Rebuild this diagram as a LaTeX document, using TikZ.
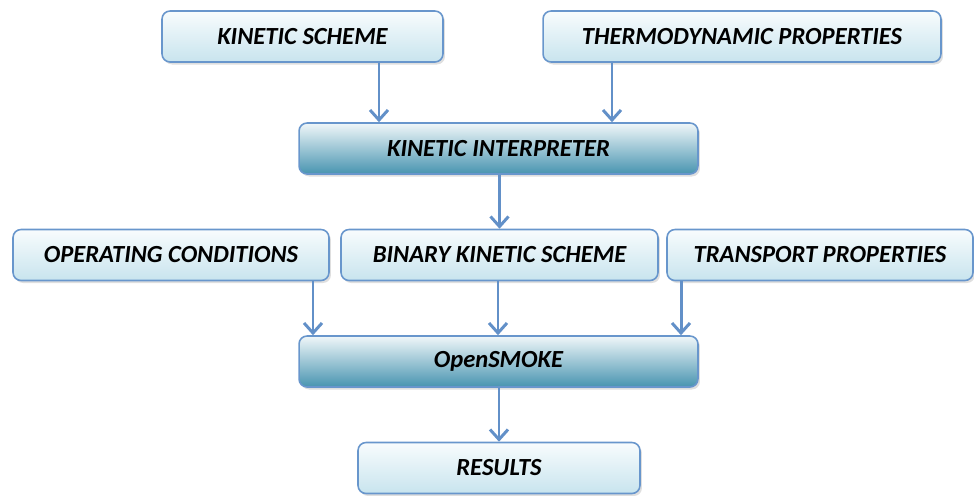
\documentclass[tikz,border=0pt]{standalone}
\usepackage{fontspec}
\setmainfont{Carlito}
\usepackage{tikz}
\usetikzlibrary{arrows.meta, shadows}

\definecolor{boxline}{RGB}{104,150,204}
\definecolor{arrowblue}{RGB}{98,144,200}
\definecolor{lighttop}{RGB}{248,252,253}
\definecolor{lightbot}{RGB}{200,228,238}
\definecolor{darktop}{RGB}{240,247,249}
\definecolor{darkbot}{RGB}{72,148,176}

\begin{document}
\begin{tikzpicture}[x=0.02cm, y=-0.02cm,
		box/.style = {draw = boxline, line width = 0.9pt, rounded corners = 0.16cm,
			minimum height = 1.02cm, inner sep = 0pt,
			font = \fontsize{14}{16}\selectfont\bfseries\itshape,
			drop shadow = {opacity = 0.25, shadow xshift = 0.04cm, shadow yshift = -0.05cm}},
		lightbox/.style = {box, top color = lighttop, bottom color = lightbot},
		darkbox/.style = {box, top color = darktop, bottom color = darkbot},
		flow/.style = {draw = arrowblue, line width = 1.7pt, -{Straight Barb[length = 2mm, width = 3.6mm]}}]
		\useasboundingbox (0,0) rectangle (974,495);
		
		% inputs
		\node[lightbox, minimum width = 5.62cm] (ks) at (302.5,36.5) {KINETIC SCHEME};
		\node[lightbox, minimum width = 7.96cm] (tdp) at (742,36.5) {THERMODYNAMIC PROPERTIES};
		\node[darkbox, minimum width = 7.98cm] (ki) at (498.5,148.5) {KINETIC INTERPRETER};
		
		\node[lightbox, minimum width = 6.32cm] (oc) at (171,255) {OPERATING CONDITIONS};
		\node[lightbox, minimum width = 6.34cm] (bks) at (499.5,255) {BINARY KINETIC SCHEME};
		\node[lightbox, minimum width = 6.12cm] (trp) at (820,255) {TRANSPORT PROPERTIES};
		
		% solver and output
		\node[darkbox, minimum width = 7.98cm] (os) at (498.5,361.5) {OpenSMOKE};
		\node[lightbox, minimum width = 5.64cm] (res) at (499,468) {RESULTS};
		
		\draw[flow] (ks.south -| 379,0) -- (ki.north -| 379,0);
		\draw[flow] (tdp.south -| 612,0) -- (ki.north -| 612,0);
		\draw[flow] (ki.south -| bks.north) -- (bks.north);
		\draw[flow] (oc.south -| 313,0) -- (os.north -| 313,0);
		\draw[flow] (bks.south -| 498,0) -- (os.north -| 498,0);
		\draw[flow] (trp.south -| 681,0) -- (os.north -| 681,0);
		\draw[flow] (os.south -| res.north) -- (res.north);
\end{tikzpicture}
\end{document}
